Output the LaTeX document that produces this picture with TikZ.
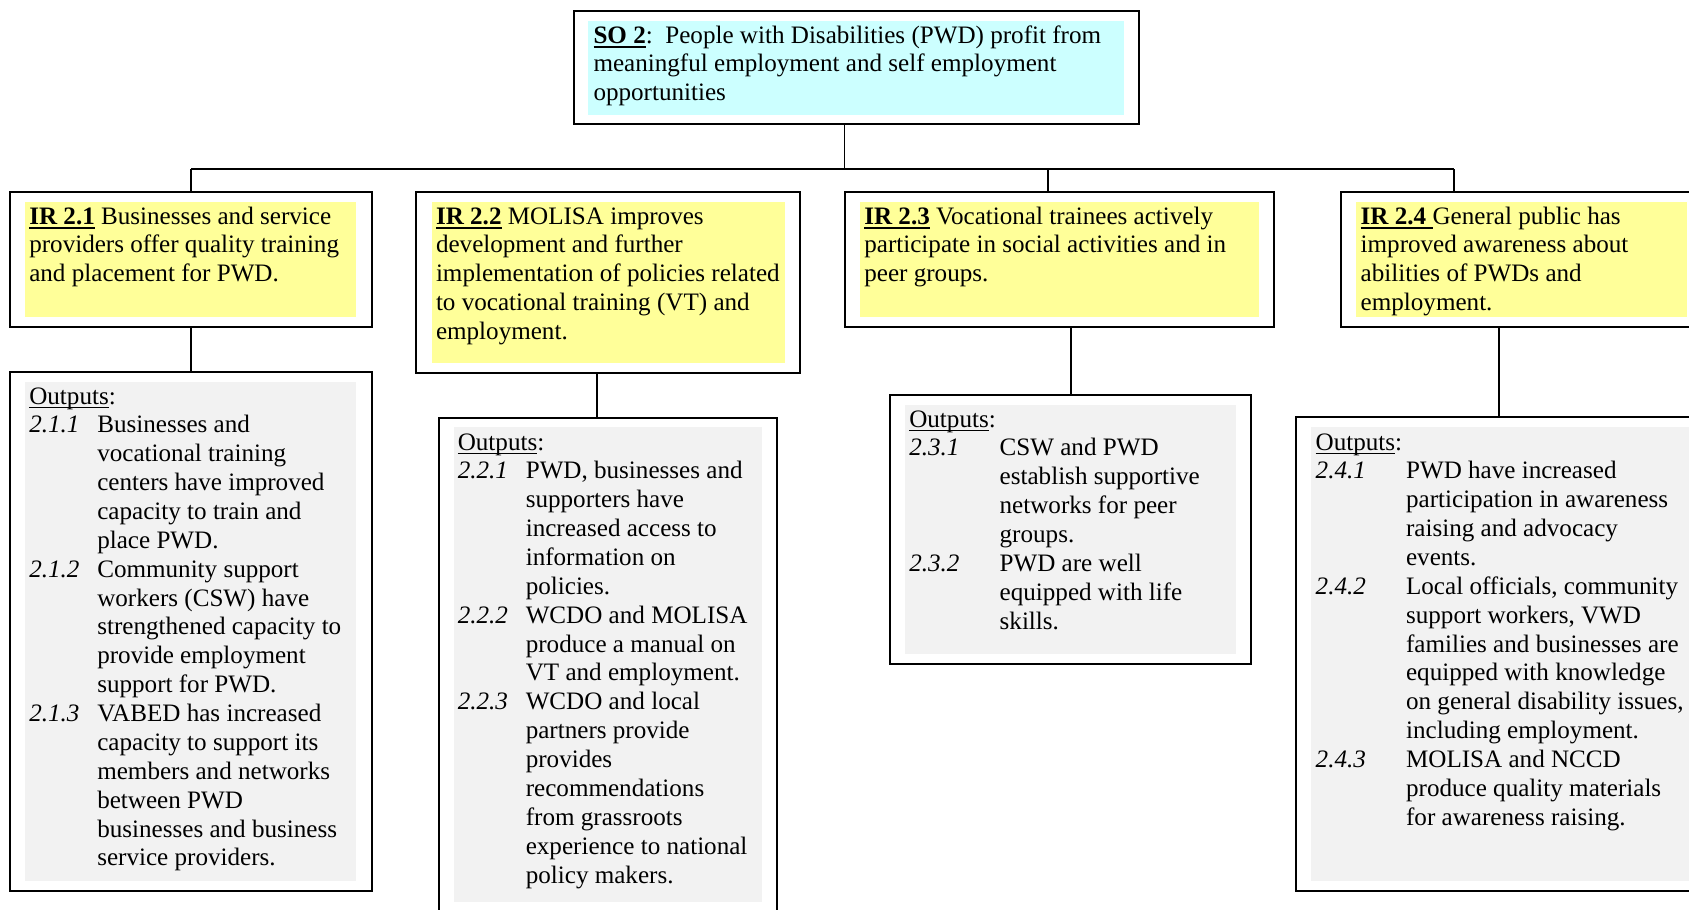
\documentclass[tikz,border=0pt]{standalone}
\usepackage{fontspec}
\setmainfont{Liberation Serif}
\definecolor{socyan}{HTML}{CCFFFF}
\definecolor{iryellow}{HTML}{FFFF99}
\definecolor{outgray}{HTML}{F2F2F2}
\newcommand\bul[1]{\leavevmode\setbox0=\hbox{\textbf{#1}}\rlap{\rule[-2.3pt]{\wd0}{0.9pt}}\box0\relax}
\newcommand\tul[1]{\leavevmode\setbox0=\hbox{#1}\rlap{\rule[-1.9pt]{\wd0}{0.5pt}}\box0\relax}
\newcommand\oul{\tul{Outputs}:}
\newcommand\itm[2]{\makebox[#1][l]{\textit{#2}}}
\newcommand\tb[1]{\parbox[t]{420pt}{\fontsize{12}{13.8}\selectfont #1}}
\def\u{0.478pt}
\def\ia{32.5pt}
\def\ib{43.2pt}
\tikzset{
 frame/.style={draw=black, line width=0.95pt, inner sep=0pt, outer sep=0pt, anchor=north west, fill=white},
 conn/.style={draw=black, line width=0.85pt},
 txt/.style={anchor=base west, inner sep=0pt, outer sep=0pt},
}
\begin{document}
\begin{tikzpicture}[x=0.478pt,y=-0.478pt]
\useasboundingbox (0,0) rectangle (1689,909);
\clip (0,0) rectangle (1689,909);
% frames
\node[frame, minimum width={565*\u}, minimum height={113*\u}] (so) at (574,11) {};
\node[frame, minimum width={362*\u}, minimum height={135*\u}] (ir1) at (10,192) {};
\node[frame, minimum width={384*\u}, minimum height={181*\u}] (ir2) at (416,192) {};
\node[frame, minimum width={429*\u}, minimum height={135*\u}] (ir3) at (845,192) {};
\node[frame, minimum width={380*\u}, minimum height={135*\u}] (ir4) at (1341,192) {};
\node[frame, minimum width={362*\u}, minimum height={519*\u}] (out1) at (10,372) {};
\node[frame, minimum width={338*\u}, minimum height={540*\u}] (out2) at (439,418) {};
\node[frame, minimum width={361*\u}, minimum height={269*\u}] (out3) at (890,395) {};
\node[frame, minimum width={424*\u}, minimum height={474*\u}] (out4) at (1296,417) {};
% shaded paragraphs
\fill[socyan] (588,20.5) rectangle (1123.5,115);
\fill[iryellow] (25,202) rectangle (356,317);
\fill[iryellow] (432,202) rectangle (785,363);
\fill[iryellow] (860,202) rectangle (1259,317);
\fill[iryellow] (1356,202) rectangle (1687,317);
\fill[outgray] (25,382) rectangle (356,881);
\fill[outgray] (454,427) rectangle (762,902);
\fill[outgray] (905,405) rectangle (1236,654);
\fill[outgray] (1311,427) rectangle (1700,881);
% connectors
\coordinate (bus0) at (844.5,169);
\coordinate (bus1) at (191,169);
\coordinate (bus3) at (1048,169);
\coordinate (bus4) at (1454,169);
\coordinate (c2) at (597,0);
\coordinate (c3) at (1071,0);
\coordinate (c4) at (1499,0);
\draw[conn] (bus0 |- so.south) -- (bus0);
\draw[conn] (bus1) -- (bus4);
\draw[conn] (bus1) -- (bus1 |- ir1.north);
\draw[conn] (bus3) -- (bus3 |- ir3.north);
\draw[conn] (bus4) -- (bus4 |- ir4.north);
\draw[conn] (ir1.south) -- (out1.north);
\draw[conn] (c2 |- ir2.south) -- (c2 |- out2.north);
\draw[conn] (c3 |- ir3.south) -- (c3 |- out3.north);
\draw[conn] (c4 |- ir4.south) -- (c4 |- out4.north);
% texts
\node[txt] (tso) at (593.5,43) {\tb{\bul{SO 2}:\ \ People with Disabilities (PWD) profit from\\meaningful employment and self employment\\opportunities}};
\node[txt] (tir1) at (29.3,224) {\tb{\bul{IR 2.1} Businesses and service\\providers offer quality training\\and placement for PWD.}};
\node[txt] (tir2) at (436,224) {\tb{\bul{IR 2.2} MOLISA improves\\development and further\\implementation of policies related\\to vocational training (VT) and\\employment.}};
\node[txt] (tir3) at (864.3,224) {\tb{\bul{IR 2.3} Vocational trainees actively\\participate in social activities and in\\peer groups.}};
\node[txt] (tir4) at (1360.7,224) {\tb{\bul{IR 2.4\ }General public has\\improved awareness about\\abilities of PWDs and\\employment.}};
\node[txt] (tout1) at (29.3,404) {\tb{\oul\\
\itm{\ia}{2.1.1}Businesses and\\\hspace*{\ia}vocational training\\\hspace*{\ia}centers have improved\\\hspace*{\ia}capacity to train and\\\hspace*{\ia}place PWD.\\
\itm{\ia}{2.1.2}Community support\\\hspace*{\ia}workers (CSW) have\\\hspace*{\ia}strengthened capacity to\\\hspace*{\ia}provide employment\\\hspace*{\ia}support for PWD.\\
\itm{\ia}{2.1.3}VABED has increased\\\hspace*{\ia}capacity to support its\\\hspace*{\ia}members and networks\\\hspace*{\ia}between PWD\\\hspace*{\ia}businesses and business\\\hspace*{\ia}service providers.}};
\node[txt] (tout2) at (457.8,450) {\tb{\oul\\
\itm{\ia}{2.2.1}PWD, businesses and\\\hspace*{\ia}supporters have\\\hspace*{\ia}increased access to\\\hspace*{\ia}information on\\\hspace*{\ia}policies.\\
\itm{\ia}{2.2.2}WCDO and MOLISA\\\hspace*{\ia}produce a manual on\\\hspace*{\ia}VT and employment.\\
\itm{\ia}{2.2.3}WCDO and local\\\hspace*{\ia}partners provide\\\hspace*{\ia}provides\\\hspace*{\ia}recommendations\\\hspace*{\ia}from grassroots\\\hspace*{\ia}experience to national\\\hspace*{\ia}policy makers.}};
\node[txt] (tout3) at (909.3,427) {\tb{\oul\\
\itm{\ib}{2.3.1}CSW and PWD\\\hspace*{\ib}establish supportive\\\hspace*{\ib}networks for peer\\\hspace*{\ib}groups.\\
\itm{\ib}{2.3.2}PWD are well\\\hspace*{\ib}equipped with life\\\hspace*{\ib}skills.}};
\node[txt] (tout4) at (1315.7,450) {\tb{\oul\\
\itm{\ib}{2.4.1}PWD have increased\\\hspace*{\ib}participation in awareness\\\hspace*{\ib}raising and advocacy\\\hspace*{\ib}events.\\
\itm{\ib}{2.4.2}Local officials, community\\\hspace*{\ib}support workers, VWD\\\hspace*{\ib}families and businesses are\\\hspace*{\ib}equipped with knowledge\\\hspace*{\ib}on general disability issues,\\\hspace*{\ib}including employment.\\
\itm{\ib}{2.4.3}MOLISA and NCCD\\\hspace*{\ib}produce quality materials\\\hspace*{\ib}for awareness raising.}};
\end{tikzpicture}
\end{document}
